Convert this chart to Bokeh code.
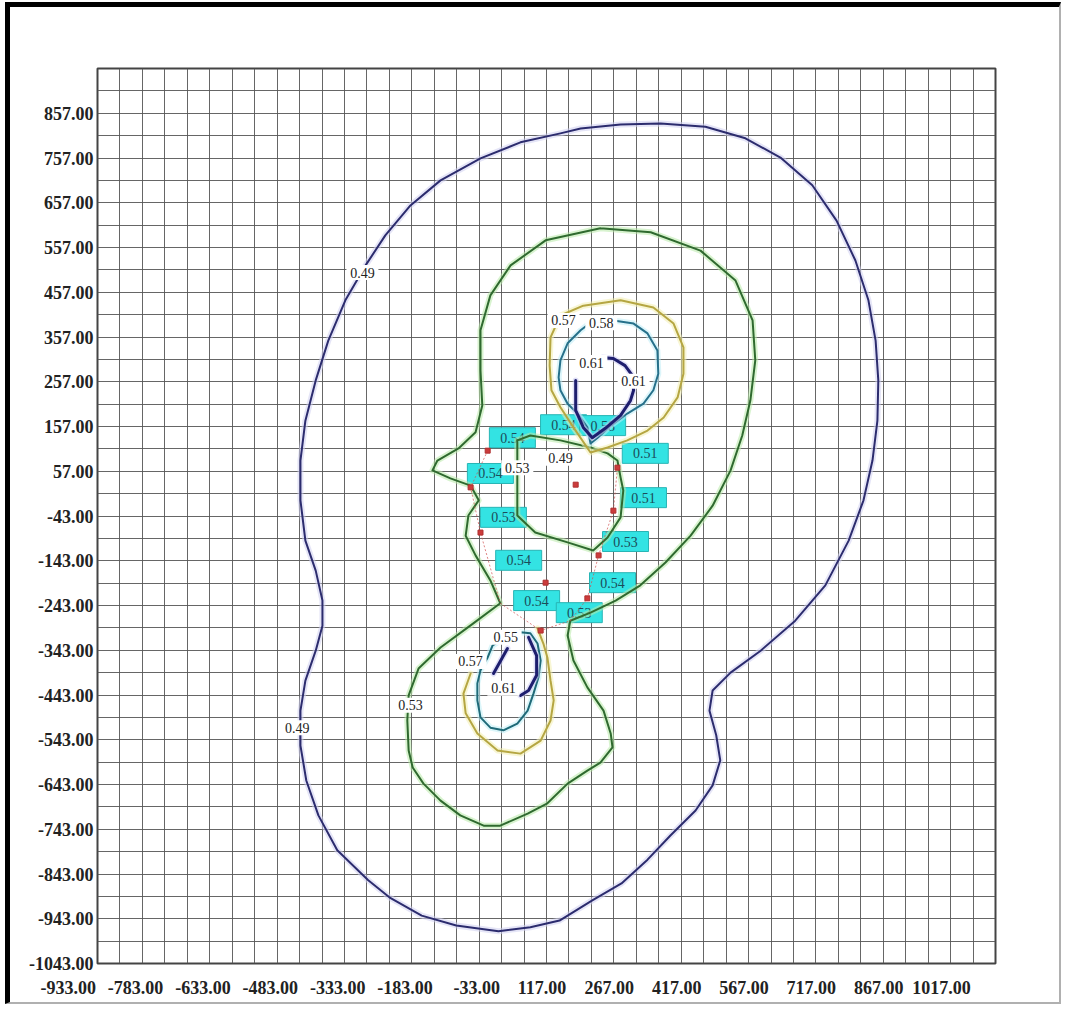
from bokeh.plotting import figure
from bokeh.models import Range1d, FixedTicker, ColumnDataSource
from bokeh.core.properties import value
from bokeh.embed import file_html
from bokeh.resources import INLINE

# ---------------- data ----------------
x_ticks = [-933, -783, -633, -483, -333, -183, -33, 117, 267, 417, 567, 717, 867, 1017]
y_ticks = [-1043, -943, -843, -743, -643, -543, -443, -343, -243, -143, -43,
           57, 157, 257, 357, 457, 557, 657, 757, 857]

c049_x = [143, 232, 321, 421, 510, 588, 659, 713, 755, 784, 800, 806, 804, 793, 773, 740, 688, 621, 544, 477,
          437, 430, 445, 454, 437, 399, 343, 292, 234, 169, 96, 31, -40, -134, -211, -283, -330, -399, -441, -468,
          -481, -481, -470, -447, -432, -432, -447, -470, -481, -481, -470, -447, -419, -381, -336, -292, -236, -169,
          -80, 9, 98, 143]
c049_y = [823, 832, 834, 827, 801, 758, 696, 617, 528, 439, 349, 260, 170, 81, -8, -98, -198, -277, -344, -393,
          -433, -478, -533, -589, -645, -701, -757, -811, -864, -902, -947, -962, -971, -958, -936, -895, -857, -790,
          -712, -634, -556, -478, -411, -344, -288, -232, -165, -98, -8, 81, 170, 260, 349, 439, 517, 584, 651, 707,
          756, 792, 812, 823]

c053_x = [187, 299, 410, 488, 526, 532, 521, 503, 477, 437, 388, 332, 276, 221, 165, 120, 114, 127, 158, 194,
          210, 214, 187, 158, 114, 69, 25, -36, -73, -125, -169, -207, -231, -240, -243, -240, -218, -169, -96, -36,
          -58, -91, -113, -107, -84, -102, -147, -187, -176, -129, -91, -76, -80, -80, -58, -13, 65, 187]
c053_y = [600, 591, 550, 483, 394, 305, 215, 137, 59, -20, -87, -147, -198, -232, -259, -277, -310, -366, -426,
          -478, -529, -560, -594, -612, -641, -685, -708, -735, -735, -712, -679, -641, -605, -567, -500, -444, -384,
          -337, -283, -238, -187, -131, -87, -42, -8, 25, 41, 59, 81, 108, 144, 204, 282, 372, 450, 517, 573, 600]

c053_in_x = [2, 2, 2, 42, 114, 171, 203, 232, 238, 232, 225, 203, 165, 98, 31, 2]
c053_in_y = [126, 36, -42, -80, -102, -120, -91, -46, 14, 43, 81, 97, 110, 126, 137, 126]

c057_up_x = [165, 127, 98, 78, 74, 76, 98, 149, 232, 305, 350, 372, 372, 359, 328, 292, 247, 203, 165]
c057_up_y = [99, 155, 200, 238, 293, 356, 405, 427, 439, 423, 387, 334, 275, 222, 177, 148, 126, 110, 99]

c058_up_x = [165, 158, 136, 114, 98, 94, 98, 114, 143, 165, 216, 261, 292, 314, 316, 305, 283, 247, 210, 181, 165]
c058_up_y = [119, 155, 186, 208, 238, 267, 305, 343, 372, 389, 394, 387, 365, 327, 275, 238, 208, 186, 159, 132, 119]

c061_up_x = [132, 132, 149, 169, 198, 232, 254, 261, 258, 242, 216, 192]
c061_up_y = [260, 193, 155, 132, 153, 182, 215, 238, 271, 293, 309, 311]

c055_lo_x = [9, 31, 47, 54, 49, 38, 25, 2, -29, -58, -80, -87, -87, -80, -64, -53, -24, 9]
c055_lo_y = [-303, -305, -328, -366, -404, -440, -478, -507, -522, -516, -493, -455, -417, -388, -359, -332, -314, -303]

c057_lo_x = [47, 60, 69, 76, 83, 76, 54, 9, -42, -87, -113, -118, -102]
c057_lo_y = [-294, -328, -359, -411, -455, -500, -545, -574, -567, -529, -484, -440, -395]

c061_lo_x = [27, 45, 45, 27, 9]
c061_lo_y = [-314, -355, -399, -433, -444]
c061_lo2_x = [-20, -51]
c061_lo2_y = [-339, -395]

clab_text = ["0.49", "0.49", "0.53", "0.53", "0.57", "0.58", "0.61", "0.61", "0.55", "0.57", "0.61", "0.49"]
clab_x = [-343, -488, -236, 2, 105, 189, 167, 261, -24, -102, -29, 98]
clab_y = [501, -516, -466, 65, 394, 389, 300, 258, -314, -368, -428, 86]

pt_text = ["0.54", "0.54", "0.58", "0.51", "0.54", "0.51", "0.53", "0.53", "0.54", "0.54", "0.54", "0.53"]
pt_x = [-9, 105, 192, 287, -58, 283, -29, 243, 5, 214, 45, 140]
pt_y = [132, 161, 159, 97, 52, -2, -46, -100, -142, -192, -232, -259]

red_x = [-64, 225, 132, -102, -80, 65, 183, 158, 216, 54]
red_y = [103, 65, 27, 21, -80, -192, -131, -227, -31, -299]

perim_x = [-64, -102, -80, -36, 54, 120, 158, 183, 216, 225]
perim_y = [103, 21, -80, -238, -299, -277, -227, -131, -31, 65]

X0, X1 = -933, 1067
Y0, Y1 = -1043, 957

# ---------------- figure ----------------
p = figure(width=1056, height=1002, output_backend="svg", toolbar_location=None,
           x_range=Range1d(X0, X1), y_range=Range1d(Y0, Y1),
           min_border_left=87, min_border_right=71, min_border_top=61, min_border_bottom=46,
           background_fill_color="white", border_fill_color="white",
           styles={"margin-left": "5px", "margin-top": "2px",
                   "border-top": "5px solid black", "border-left": "5px solid black",
                   "border-right": "2px solid #b0b0b0", "border-bottom": "2px solid #b0b0b0"})

p.outline_line_color = "#444444"
p.outline_line_width = 2

p.xgrid.ticker = FixedTicker(ticks=list(range(X0, X1 + 1, 50)))
p.ygrid.ticker = FixedTicker(ticks=list(range(Y0, Y1 + 1, 50)))
for g in (p.xgrid, p.ygrid):
    g.grid_line_color = "#555555"
    g.grid_line_width = 1
    g.grid_line_alpha = 0.9

for ax in (p.xaxis, p.yaxis):
    ax.axis_line_color = None
    ax.major_tick_line_color = None
    ax.minor_tick_line_color = None
    ax.major_tick_out = 0
    ax.major_tick_in = 0
    ax.major_label_text_font = "Liberation Serif"
    ax.major_label_text_font_style = "bold"
    ax.major_label_text_font_size = "18px"
    ax.major_label_text_color = "#222222"

# width (in em) of a label in Liberation Serif, used to pad x labels so they
# end at their tick, as in the original software
def em_width(s):
    return sum(0.5 if c.isdigit() else 0.333 if c == "-" else 0.25 for c in s)

NBSP = "\u00a0"
p.xaxis.ticker = FixedTicker(ticks=x_ticks)
p.yaxis.ticker = FixedTicker(ticks=y_ticks)
p.xaxis.major_label_overrides = {
    t: "%.2f" % t + NBSP * round((em_width("%.2f" % t) * 18 + 5) / 4.5) for t in x_ticks}
p.yaxis.major_label_overrides = {t: "%.2f" % t for t in y_ticks}
p.xaxis.major_label_standoff = 14
p.yaxis.major_label_standoff = 4

def contour(xs, ys, color, halo, width=2.0):
    p.line(xs, ys, line_color=halo, line_width=6, line_alpha=0.55, line_join="round", line_cap="round")
    p.line(xs, ys, line_color=color, line_width=width, line_join="round", line_cap="round")

psrc = ColumnDataSource(dict(x=pt_x, y=pt_y, t=pt_text))
p.rect("x", "y", width=46, height=20, width_units="screen", height_units="screen",
       fill_color="#33e3e3", line_color="#28b5b5", source=psrc)
p.text("x", "y", "t", text_align="center", text_baseline="middle", text_font=value("Liberation Serif"),
       text_font_size="14px", text_color="#1b4d5a", source=psrc)

contour(c049_x, c049_y, "#2c2c6e", "#d0d0f0")
contour(c053_x, c053_y, "#2f6a2f", "#b8eaa8")
contour(c053_in_x, c053_in_y, "#2f6a2f", "#b8eaa8")
contour(c057_up_x, c057_up_y, "#b5a642", "#f3efb0")
contour(c058_up_x, c058_up_y, "#26708a", "#c0ecf5")
contour(c061_up_x, c061_up_y, "#1e1e6e", "#c8c8f0", 3)
contour(c057_lo_x, c057_lo_y, "#b5a642", "#f3efb0")
contour(c055_lo_x, c055_lo_y, "#1f6a78", "#bfeff5")
contour(c061_lo_x, c061_lo_y, "#1e1e6e", "#c8c8f0", 3)
contour(c061_lo2_x, c061_lo2_y, "#1e1e6e", "#c8c8f0", 3)

p.line(perim_x, perim_y, line_color="#d05050", line_width=1, line_dash="2 2", line_alpha=0.7)
p.scatter(red_x, red_y, marker="square", size=5, fill_color="#cc3b3b", line_color="#b03030")

csrc = ColumnDataSource(dict(x=clab_x, y=clab_y, t=clab_text))
p.rect("x", "y", width=32, height=15, width_units="screen", height_units="screen",
       fill_color="white", line_color=None, source=csrc)
p.text("x", "y", "t", text_align="center", text_baseline="middle", text_font=value("Liberation Serif"),
       text_font_size="14px", text_color="#222222", source=csrc)

open("out.html", "w").write(file_html(p, INLINE))
